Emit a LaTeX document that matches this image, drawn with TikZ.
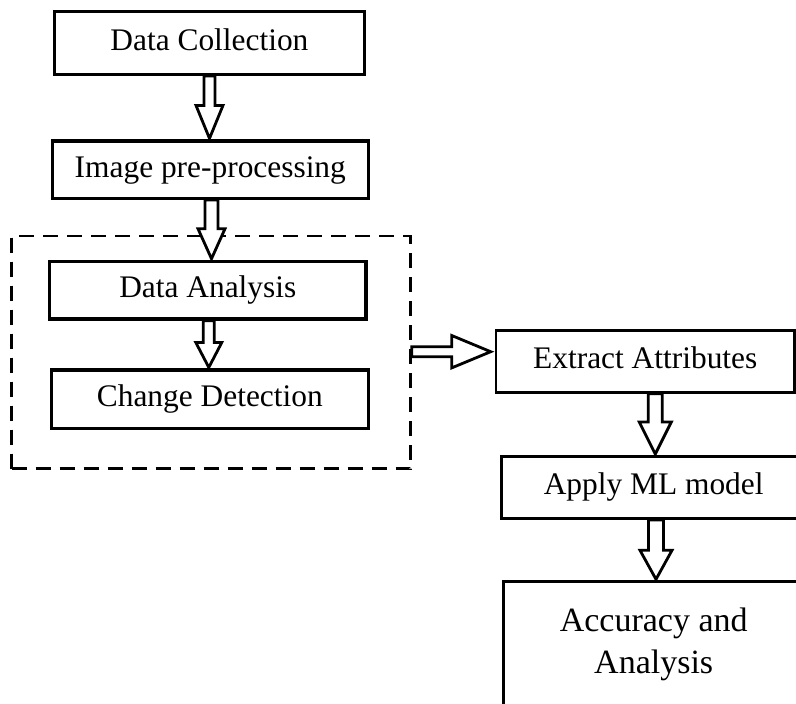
\documentclass[tikz,border=0pt]{standalone}
\usepackage{fontspec}
\setmainfont{Liberation Serif}
\usetikzlibrary{calc}
\tikzset{
  lbox/.style={draw=black, line width=3.2bp, fill=white, inner sep=0pt, rectangle,
    font=\fontsize{31.4bp}{37bp}\selectfont, text height=21.6bp, text depth=6.9bp},
  rbox/.style={lbox, line width=2.6bp},
  grpbox/.style={draw=black, line width=2.5bp, dash pattern=on 15bp off 9bp, inner sep=0pt, rectangle},
  blk/.style={draw=black, fill=white, line width=2.8bp, line join=miter}
}
\newcommand\vblk[6]{%
  \draw[blk] let \p1=(#1.south), \p2=(#2.north) in
    ({(#3-#4)*1bp},\y1) -- ({(#3+#4)*1bp},\y1) -- ({(#3+#4)*1bp},\y2+#6bp+1bp)
    -- ({(#3+#5)*1bp},\y2+#6bp+1bp) -- ({#3*1bp},\y2+1bp) -- ({(#3-#5)*1bp},\y2+#6bp+1bp)
    -- ({(#3-#4)*1bp},\y2+#6bp+1bp) -- cycle;}
\begin{document}
\begin{tikzpicture}[x=1bp,y=-1bp]
\useasboundingbox (0,0) rectangle (796,704);
\clip (0,0) rectangle (796,704);
% left column
\node[lbox, minimum width=310bp, minimum height=63bp] (dc) at (209.4,43) {Data Collection};
\node[lbox, minimum width=316bp, minimum height=57.3bp] (ip) at (210.3,169.7) {Image pre-processing};
\node[grpbox, minimum width=398.8bp, minimum height=232.7bp] (grp) at (211.1,352.35) {};
\node[lbox, minimum width=316.3bp, minimum height=57.7bp] (da) at (207.8,290.2) {Data Analysis};
\node[lbox, minimum width=317bp, minimum height=58.3bp] (cd) at (209.8,399.2) {Change Detection};
% right column
\node[rbox, minimum width=298.5bp, minimum height=62bp] (ea) at (645.25,361.3) {Extract Attributes};
\node[rbox, minimum width=304.7bp, minimum height=62.4bp] (ml) at (653.7,487.5) {Apply ML model};
\node[rbox, anchor=north, minimum width=300bp, align=center, inner ysep=26.5bp,
      font=\fontsize{34bp}{42bp}\selectfont, text height=, text depth=] (acc) at (653.7,580.3) {Accuracy and\\Analysis};
% block arrows
\vblk{dc}{ip}{209.5}{5.5}{13.5}{33}
\vblk{ip}{da}{211.5}{6.5}{13.5}{30}
\vblk{da}{cd}{208.8}{5.5}{13}{25}
\vblk{ea}{ml}{655.3}{7}{16}{32}
\vblk{ml}{acc}{656}{7.5}{16}{29}
\draw[blk] let \p1=(grp.east), \p2=(ea.west) in
  (\x1,-346.7bp) -- (451.7bp,-346.7bp) -- (451.7bp,-335.5bp) -- (\x2-4bp,-351.7bp)
  -- (451.7bp,-367.9bp) -- (451.7bp,-356.7bp) -- (\x1,-356.7bp) -- cycle;
\end{tikzpicture}
\end{document}
